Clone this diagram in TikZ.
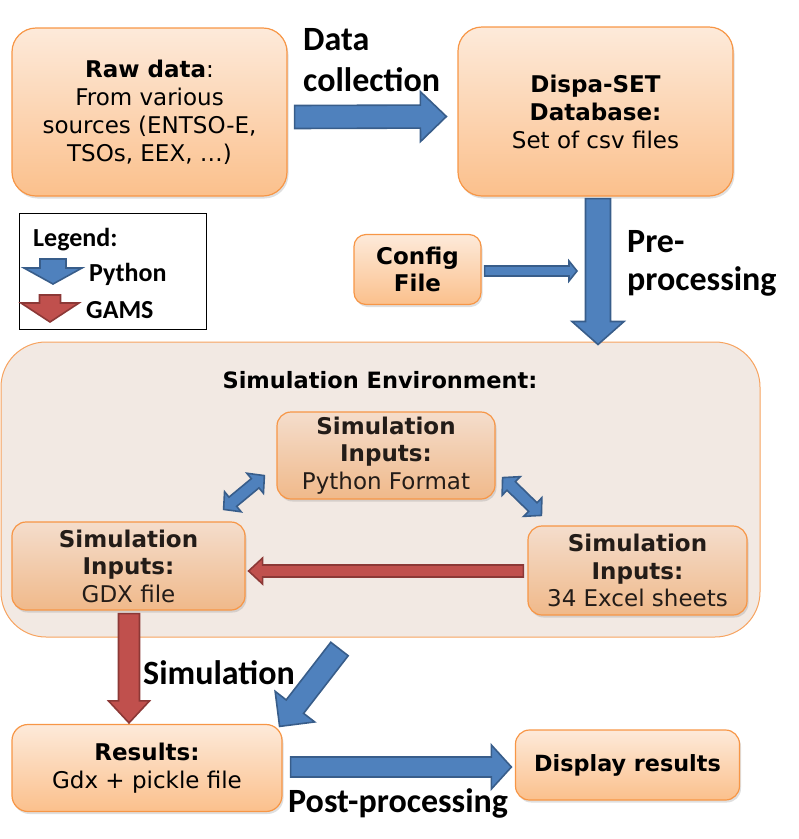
\documentclass[tikz,border=0pt]{standalone}
\usepackage{fontspec}
\newfontfamily\vfont{DejaVu Sans}
\newfontfamily\cfont{Carlito}
\usetikzlibrary{calc,shadows}
\definecolor{boxtop}{RGB}{253,234,218}
\definecolor{boxbot}{RGB}{251,192,140}
\definecolor{boxline}{RGB}{247,150,70}
\definecolor{intop}{RGB}{244,221,204}
\definecolor{inbot}{RGB}{240,185,138}
\definecolor{intext}{RGB}{35,28,24}
\definecolor{envfill}{RGB}{242,233,227}
\definecolor{envline}{RGB}{247,163,95}
\definecolor{pyfill}{RGB}{79,129,189}
\definecolor{pyline}{RGB}{56,93,138}
\definecolor{gmfill}{RGB}{192,80,77}
\definecolor{gmline}{RGB}{140,56,54}
\newcommand\blockarrow[6]{%
\coordinate (ba-s) at #1; \coordinate (ba-t) at #2;
\coordinate (ba-h) at ($(ba-t)!#5pt!(ba-s)$);
\path[#6] ($(ba-s)!#3pt!90:(ba-t)$) -- ($(ba-h)!#3pt!90:(ba-t)$) -- ($(ba-h)!#4pt!90:(ba-t)$) -- (ba-t)
 -- ($(ba-h)!#4pt!-90:(ba-t)$) -- ($(ba-h)!#3pt!-90:(ba-t)$) -- ($(ba-s)!#3pt!-90:(ba-t)$) -- cycle;}
\newcommand\twinarrow[6]{%
\coordinate (ba-s) at #1; \coordinate (ba-t) at #2;
\coordinate (ba-h) at ($(ba-t)!#5pt!(ba-s)$);
\coordinate (ba-g) at ($(ba-s)!#5pt!(ba-t)$);
\path[#6] (ba-s) -- ($(ba-g)!#4pt!90:(ba-t)$) -- ($(ba-g)!#3pt!90:(ba-t)$) -- ($(ba-h)!#3pt!90:(ba-t)$) -- ($(ba-h)!#4pt!90:(ba-t)$) -- (ba-t)
 -- ($(ba-h)!#4pt!-90:(ba-t)$) -- ($(ba-h)!#3pt!-90:(ba-t)$) -- ($(ba-g)!#3pt!-90:(ba-t)$) -- ($(ba-g)!#4pt!-90:(ba-t)$) -- cycle;}
\begin{document}
\begin{tikzpicture}[x=1pt,y=-1pt,
 box/.style={draw=boxline,line width=1.2pt,rounded corners=18pt,top color=boxtop,bottom color=boxbot,align=center,inner sep=0pt,
  font=\vfont\fontsize{23}{28}\selectfont,drop shadow={opacity=0.25,shadow xshift=1.5pt,shadow yshift=-2.5pt}},
 inbox/.style={box,rounded corners=14pt,top color=intop,bottom color=inbot,text=intext,font=\vfont\fontsize{23}{27.5}\selectfont},
 lbl/.style={font=\cfont\bfseries\fontsize{34}{41}\selectfont,align=left,inner sep=0pt,anchor=north west},
 leg/.style={font=\cfont\bfseries\fontsize{26}{30}\selectfont,inner sep=0pt,anchor=west},
 py/.style={fill=pyfill,draw=pyline,line width=1.6pt},
 gm/.style={fill=gmfill,draw=gmline,line width=1.6pt}]
\useasboundingbox (0,0) rectangle (799,839);
\node[box,rounded corners=24pt,minimum width=275pt,minimum height=168pt] (raw) at (149.5,112)
 {\textbf{Raw data}:\\From various\\sources (ENTSO-E,\\TSOs, EEX, …)};
\node[box,rounded corners=24pt,minimum width=275pt,minimum height=169pt] (db) at (595.5,111.5)
 {\textbf{Dispa-SET}\\\textbf{Database:}\\Set of csv files};
\node[box,rounded corners=12pt,minimum width=127pt,minimum height=70pt,font=\vfont\bfseries\fontsize{23}{27}\selectfont] (config) at (417.5,269.5) {Config\\File};
\node[draw,line width=0.9pt,fill=white,minimum width=187pt,minimum height=116pt,inner sep=0pt] (legend) at (112.5,271) {};
\node[leg] (legtitle) at (33,240) {Legend:};
\node[leg] (legpy) at (89,274.5) {Python};
\node[leg] (leggm) at (86,310) {GAMS};
\blockarrow{(53,259)}{(53,284)}{13}{29}{16}{py}
\blockarrow{(50,295)}{(50,322)}{10.5}{29}{19}{gm}
\node[draw=envline,fill=envfill,line width=1pt,rounded corners=45pt,minimum width=759pt,minimum height=295pt,inner sep=0pt] (env) at (380.5,489.5) {};
\node[font=\vfont\bfseries\fontsize{22.5}{28}\selectfont] (envtitle) at (380,380) {Simulation Environment:};
\node[inbox,minimum width=218pt,minimum height=87pt] (pyin) at (386,455.5) {\textbf{Simulation}\\\textbf{Inputs:}\\Python Format};
\node[inbox,minimum width=233pt,minimum height=88pt] (gdx) at (128.5,566) {\textbf{Simulation}\\\textbf{Inputs:}\\GDX file};
\node[inbox,minimum width=219pt,minimum height=89pt] (xls) at (637.5,570.5) {\textbf{Simulation}\\\textbf{Inputs:}\\34 Excel sheets};
\node[box,rounded corners=16pt,minimum width=270pt,minimum height=87pt] (res) at (147,768) {\textbf{Results:}\\Gdx + pickle file};
\node[box,rounded corners=14pt,minimum width=224pt,minimum height=70pt,font=\vfont\bfseries\fontsize{22.3}{26}\selectfont] (disp) at (627.5,765) {Display results};
\node[lbl] (collect) at (303,28) {Data\\collection};
\node[lbl,font=\cfont\bfseries\fontsize{34}{38}\selectfont] (preproc) at (627,230) {Pre-\\processing};
\node[lbl] (simlbl) at (143,660) {Simulation};
\node[lbl] (postlbl) at (288,788) {Post-processing};
\blockarrow{($(raw.east)+(7,5)$)}{($(db.west)+(-11,5)$)}{11.5}{25}{26}{py}
\blockarrow{($(db.south)+(2.5,2)$)}{($(db.south|-env.north)+(2.5,3)$)}{12.5}{26}{23}{py}
\blockarrow{($(config.east)+(3,1.5)$)}{($(config.east-|db.south)+(-18.5,1.5)$)}{5}{10}{8}{py}
\twinarrow{($(gdx.north east)+(-22,-12)$)}{($(pyin.south west)+(-12,-24)$)}{6}{13}{12}{py}
\twinarrow{($(pyin.south east)+(7,-22)$)}{($(xls.north west)+(14,-10)$)}{6}{13}{12}{py}
\blockarrow{($(xls.west)+(-4,0.5)$)}{($(gdx.east)+(3,5)$)}{6}{13}{14}{gm}
\blockarrow{($(gdx.south)+(0.5,3)$)}{($(gdx.south|-res.north)+(0.5,-1)$)}{10.5}{20.5}{22}{gm}
\blockarrow{($(env.south)+(-41,11.5)$)}{($(res.north east)+(-3,2.5)$)}{11}{25}{25}{py}
\blockarrow{($(res.east)+(8,-1)$)}{($(disp.west)+(-3.5,2)$)}{10}{22}{20}{py}
\end{tikzpicture}
\end{document}
